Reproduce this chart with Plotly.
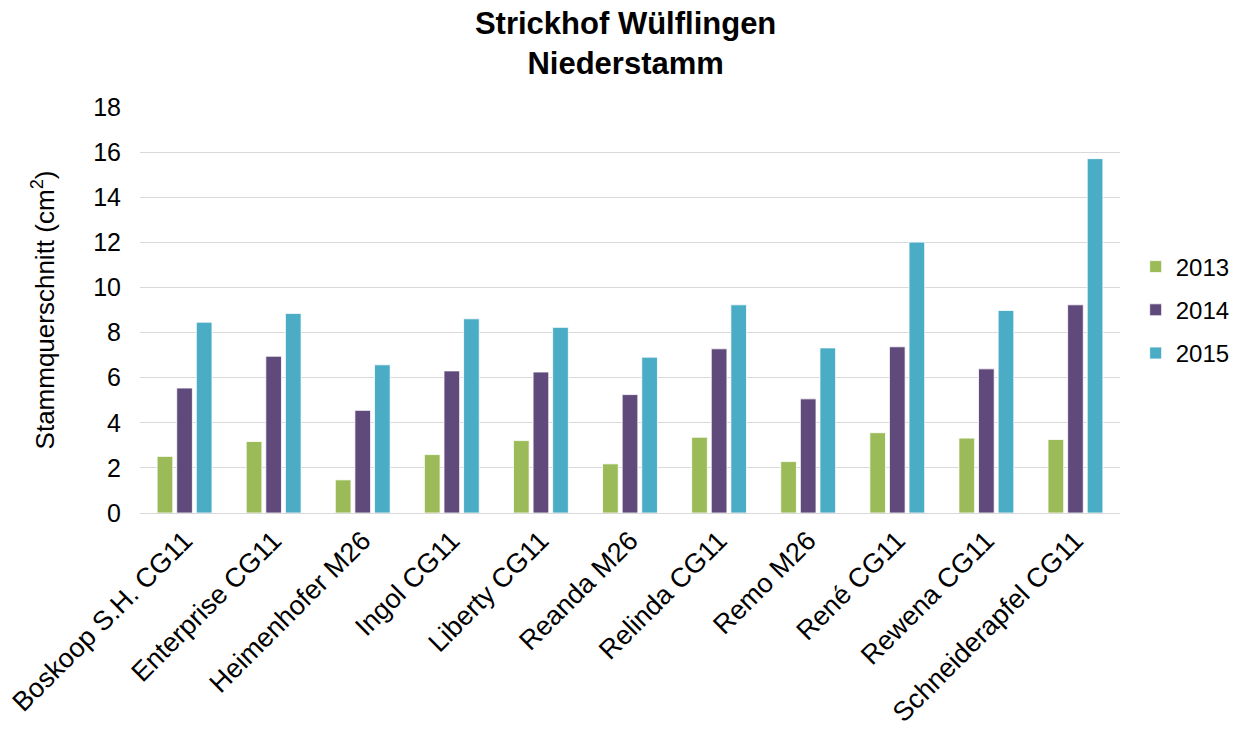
import plotly.graph_objects as go

# Sorten / Unterlagen
categories = [
    "Boskoop S.H. CG11", "Enterprise CG11", "Heimenhofer M26", "Ingol CG11",
    "Liberty CG11", "Reanda M26", "Relinda CG11", "Remo M26", "René CG11",
    "Rewena CG11", "Schneiderapfel CG11",
]

# Stammquerschnitt in cm² je Jahr
values_2013 = [2.51, 3.17, 1.47, 2.59, 3.21, 2.18, 3.36, 2.28, 3.56, 3.32, 3.26]
values_2014 = [5.54, 6.95, 4.55, 6.30, 6.25, 5.25, 7.28, 5.06, 7.37, 6.39, 9.23]
values_2015 = [8.46, 8.85, 6.57, 8.61, 8.23, 6.91, 9.23, 7.32, 12.01, 8.98, 15.71]

y_ticks = [0, 2, 4, 6, 8, 10, 12, 14, 16, 18]

series = [
    ("2013", values_2013, "#9BBB59"),
    ("2014", values_2014, "#604A7B"),
    ("2015", values_2015, "#4BACC6"),
]

font_family = "Liberation Sans, Arial, sans-serif"

fig = go.Figure()
for name, vals, color in series:
    fig.add_trace(go.Bar(
        x=categories, y=vals, name=name, legendgroup=name,
        marker=dict(color=color, line=dict(color="rgba(255,255,255,0.8)", width=1)),
    ))

fig.update_layout(
    width=1234, height=729,
    margin=dict(l=140, r=114, t=107, b=216, autoexpand=False),
    paper_bgcolor="white", plot_bgcolor="white",
    barmode="group", bargap=0.34, bargroupgap=0.2,
    font=dict(family=font_family, size=24, color="#000000"),
    title=dict(
        text="<b>Strickhof Wülflingen<br>Niederstamm</b>",
        x=0.507, xanchor="center",
        yref="container", y=1 - 34 / 729, yanchor="middle",
        font=dict(size=31, family=font_family, color="#000000"),
    ),
    legend=dict(
        x=1.016, xanchor="left", y=0.5, yanchor="middle",
        font=dict(size=24), tracegroupgap=9, itemwidth=30,
        bgcolor="rgba(0,0,0,0)",
    ),
    xaxis=dict(
        tickangle=-45, tickfont=dict(size=27),
        showline=True, linecolor="#D9D9D9", linewidth=1,
        ticks="", showgrid=False,
    ),
    yaxis=dict(
        range=[0, 18], tickvals=y_ticks, tickfont=dict(size=25),
        showgrid=True, gridcolor="#D9D9D9", gridwidth=1,
        zeroline=False, showline=False, ticks="", ticklen=0,
        ticklabelstandoff=18,
        title=dict(text="Stammquerschnitt (cm<sup>2</sup>)", font=dict(size=26), standoff=31),
    ),
)

fig.write_html("out.html")
